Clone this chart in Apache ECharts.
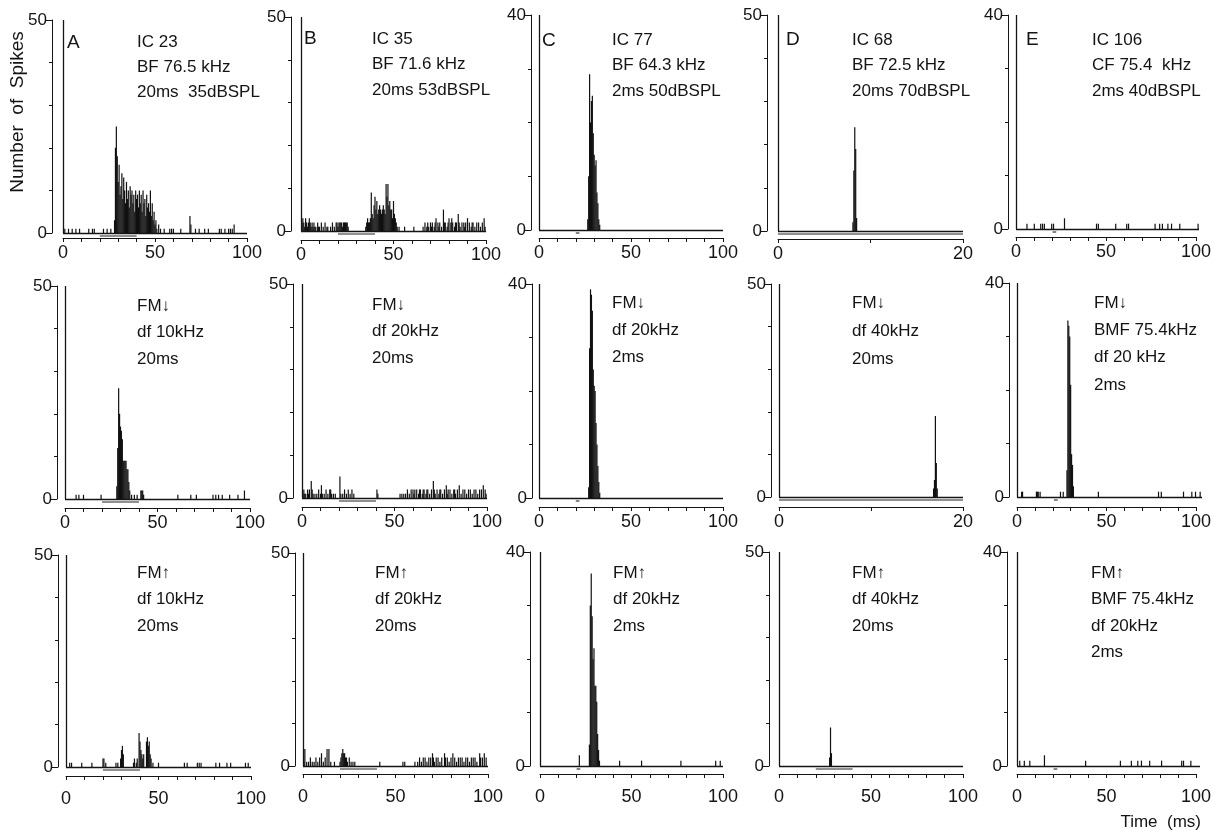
<!DOCTYPE html>
<html>
<head>
<meta charset="utf-8">
<script src="https://cdn.jsdelivr.net/npm/echarts@6/dist/echarts.min.js"></script>
<style>
  html, body { margin: 0; padding: 0; background: #fff; }
  #chart { width: 1214px; height: 835px; }
</style>
</head>
<body>
<div id="chart"></div>
<script>
// Post-stimulus time histograms, 5 neurons (columns A–E) x 3 stimulus types (rows).
// Each histogram is a list of [time in ms, number of spikes] bins.

const spikesA1 = [[1,1],[3,1],[5,1],[7,1],[9,1],[14,1],[16,1],[17,1],[22,1],[24,1],[26,1],
  [28,3],[28.5,20],[29,25],[29.5,18],[30,12],[30.5,16],[31,9],[31.5,11],[32,14],[32.5,8],[33,13],[33.5,10],
  [34,7],[34.5,12],[35,8],[35.5,10],[36,6],[36.5,11],[37,9],[37.5,10],[38,7],[38.5,9],[39,5],[39.5,10],
  [40,8],[40.5,9],[41,6],[41.5,10],[42,7],[42.5,9],[43,5],[43.5,10],[44,7],[44.5,8],[45,4],[45.5,9],
  [46,6],[46.5,7],[47,5],[47.5,10],[48,4],[48.5,7],[49,3],[49.5,5],[50,2],[50.5,3],[51,1],[52,2],[53,1],
  [55,1],[58,1],[59,1],[60,1],[64,1],[69,4],[69.5,2],[72,1],[74,1],[77,1],[79,1],[85,1],[86,1],[88,1],
  [90,1],[91,1],[92,1],[93,2]];
const spikesB1 = [[0.5,2],[1,3],[1.5,2],[2,1],[2.5,3],[3,2],[3.5,1],[4,2],[4.5,3],[5,2],[5.5,1],[6,2],[6.5,1],
  [7,2],[7.5,1],[8,1],[9,2],[9.5,1],[10,1],[11,2],[12,1],[13,2],[14,1],[14.5,1],[16,1],[17,2],[18,1],
  [19,2],[19.5,2],[20,1],[20.5,2],[21,2],[21.5,2],[22,2],[22.5,1],[23,2],[23.5,2],[24,2],[24.5,2],[25,2],[25.5,1],
  [35,1],[35.5,2],[36,3],[36.5,2],[37,2],[37.5,3],[38,9],[38.5,4],[39,3],[39.5,6],[40,8],[40.5,5],[41,7],
  [41.5,4],[42,5],[42.5,6],[43,5],[43.5,4],[44,5],[44.5,6],[45,5],[45.5,4],[46,11],[46.5,8],[47,11],
  [47.5,6],[48,7],[48.5,5],[49,5],[49.5,3],[50,7],[50.5,4],[51,3],[51.5,2],[52,1],[53,1],[56,1],[61,1],
  [66,1],[67,2],[68,1],[68.5,2],[69,1],[70,2],[70.5,1],[71,2],[72,1],[72.5,2],[73,3],[74,2],[74.5,1],
  [75,2],[76,1],[77,5],[77.5,2],[78,2],[79,1],[79.5,2],[80,3],[81,2],[81.5,3],[82,2],[83,1],[83.5,2],
  [84,2],[85,4],[85.5,2],[86,1],[87,2],[88,2],[88.5,1],[89,2],[90,3],[91,2],[92,1],[92.5,2],[93,2],
  [94,1],[95,2],[96,2],[97,1],[98,2],[99,3],[99.5,1]];
const spikesC1 = [[26.5,2],[27,10],[27.5,29],[28,20],[28.5,24],[29,25],[29.5,18],[30,14],[30.5,12],
  [31,13],[31.5,7],[32,5],[32.5,2],[33,1]];
const spikesD1 = [[8.1,2],[8.2,14],[8.3,24],[8.4,19],[8.5,3]];
const spikesE1 = [[6,1],[10,1],[13.5,1],[14.5,1],[15.5,1],[19.5,1],[20.5,1],[26.5,2],[44,1],[45,1],[54.5,1],
  [60.5,1],[61.5,1],[76,1],[78.5,1],[80,1],[83,1],[85,1],[89.5,1],[99.5,1]];

const spikesA2 = [[6,1],[7.5,1],[10,1],[19.5,1],[28,3],[28.5,12],[29,26],[29.5,20],[30,17],[30.5,16],
  [31,14],[31.5,9],[32,9],[32.5,9],[33,9],[33.5,7],[34,7],[34.5,4],[35,2],[36,1],[37.5,1],[39,1],[41,2],
  [41.5,2],[42,2],[42.5,1],[61,1],[68,1],[71,1],[80,1],[81.5,1],[83,1],[85,1],[89,1],[93.5,1],[97,2]];
const spikesB2 = [[0.5,1],[1,2],[1.5,1],[2,1],[3,2],[3.5,1],[4,2],[5,4],[5.5,2],[6,1],[7,1],[8,1],[9,2],
  [10,1],[10.5,3],[11,1],[12,1],[13,2],[14,1],[15,2],[15.5,2],[16,1],[17,1],[18,1],[20.5,5],[21,1],[22,1],
  [23,2],[24,1],[25,2],[26,1],[27,2],[28,1],[40.5,2],[41,1],[53,1],[54,1],[55,1],[56,1],[57,2],[58,1],
  [59,2],[60,2],[60.5,1],[61,2],[62,2],[63,1],[63.5,2],[64,2],[65,1],[65.5,2],[66,2],[67,1],[67.5,2],
  [68,2],[69,1],[70,2],[71,4],[71.5,2],[72,1],[73,2],[74,1],[74.5,2],[75,2],[76,1],[77,2],[78,3],[78.5,1],
  [79,2],[80,2],[81,1],[82,2],[82.5,2],[83,1],[84,2],[85,3],[86,1],[87,2],[88,2],[89,1],[90,2],[91,2],
  [92,1],[93,2],[94,2],[95,1],[96,2],[97,2],[98,3],[99,2],[99.5,1]];
const spikesC2 = [[27,2],[27.5,28],[28,39],[28.5,38],[29,35],[29.5,24],[30,21],[30.5,20],[31,14],
  [31.5,10],[32,6],[32.5,3],[33,1]];
const spikesD2 = [[16.8,2],[16.9,4],[17.0,19],[17.1,8],[17.2,2]];
const spikesE2 = [[2.5,1],[3,1],[10.5,1],[11,1],[11.5,1],[12.5,1],[23.5,1],[25,1],[27,5],[27.5,33],
  [28,32],[28.5,30],[29,21],[29.5,8],[30,6],[30.5,2],[44,1],[76.5,1],[78,1],[90,1],[94.5,1],[96.5,1],[99,1]];

const spikesA3 = [[2,1],[3,1],[8.5,1],[14,1],[20,2],[20.5,2],[21.5,1],[27,1],[28,1],[29.5,2],[30,4],
  [30.5,5],[31,3],[36.5,1],[37,2],[38,1],[38.5,2],[39.5,8],[40,6],[40.5,4],[41,3],[41.5,2],[42,3],
  [43.5,6],[44,7],[44.5,5],[45,6],[45.5,3],[46,2],[47,1],[50,1],[64,1],[65.5,1],[71,1],[72,1],[73,1],
  [81,1],[83,1],[87,1],[89,1],[97,1],[98.5,1]];
const spikesB3 = [[0.5,1],[1,4],[2,1],[3,1],[4,2],[5,1],[6,1],[7,2],[8,1],[9,2],[10,3],[11,1],[12,2],
  [13,4],[14,4],[15,1],[17,1],[20,1],[20.5,2],[21,3],[21.5,4],[22,3],[22.5,3],[23,2],[23.5,2],[24,1],
  [25,2],[26,1],[27,1],[28,1],[41.5,1],[54,1],[55,1],[60.5,1],[62,1],[63,2],[64,1],[65,2],[66,2],[67,1],
  [68,2],[69,2],[70,3],[70.5,2],[71,1],[72,2],[73,2],[74,1],[75,2],[76.5,3],[77,2],[78,2],[79,1],[80,2],
  [81,3],[82,2],[83,1],[84,2],[85,2],[86,2],[87,1],[88,2],[89,2],[90,1],[91,2],[92,2],[93,2],[94,1],
  [95.5,3],[96,2],[97,2],[98,3],[99,2]];
const spikesC3 = [[21.5,2],[27,4],[27.5,30],[28,36],[28.5,28],[29,20],[29.5,22],[30,15],[30.5,15],
  [31,12],[31.5,6],[32,3],[32.5,1],[43.5,1],[55.5,1],[77,1],[96,1],[98.5,1]];
const spikesD3 = [[27.5,2],[28,9],[28.5,3]];
const spikesE3 = [[1.5,1],[4,1],[7,1],[15,2],[37.5,1],[56.5,1],[62.5,1],[66,1],[68,1],[72.5,1],[79,1],
  [90,1],[91,1],[95,1]];

const spikes = [spikesA1, spikesB1, spikesC1, spikesD1, spikesE1,
                spikesA2, spikesB2, spikesC2, spikesD2, spikesE2,
                spikesA3, spikesB3, spikesC3, spikesD3, spikesE3];

// Axis ranges (number of spikes, time in ms)
const yMax = [50, 50, 40, 50, 40,  50, 50, 40, 50, 40,  50, 50, 40, 50, 40];
const xMax = [100, 100, 100, 20, 100,  100, 100, 100, 20, 100,  100, 100, 100, 100, 100];

// Stimulus on/off times (ms)
const stimulus = [[20,40],[20,40],[20,22],[0,20],[20,22],
                  [20,40],[20,40],[20,22],[0,20],[20,22],
                  [20,40],[20,40],[20,22],[20,40],[20,22]];

// Panel annotations
const columnLetters = ['A', 'B', 'C', 'D', 'E'];
const panelNotes = [
  ['IC 23', 'BF 76.5 kHz', '20ms  35dBSPL'],
  ['IC 35', 'BF 71.6 kHz', '20ms 53dBSPL'],
  ['IC 77', 'BF 64.3 kHz', '2ms 50dBSPL'],
  ['IC 68', 'BF 72.5 kHz', '20ms 70dBSPL'],
  ['IC 106', 'CF 75.4  kHz', '2ms 40dBSPL'],
  ['FM\u2193', 'df 10kHz', '20ms'],
  ['FM\u2193', 'df 20kHz', '20ms'],
  ['FM\u2193', 'df 20kHz', '2ms'],
  ['FM\u2193', 'df 40kHz', '20ms'],
  ['FM\u2193', 'BMF 75.4kHz', 'df 20 kHz', '2ms'],
  ['FM\u2191', 'df 10kHz', '20ms'],
  ['FM\u2191', 'df 20kHz', '20ms'],
  ['FM\u2191', 'df 20kHz', '2ms'],
  ['FM\u2191', 'df 40kHz', '20ms'],
  ['FM\u2191', 'BMF 75.4kHz', 'df 20kHz', '2ms']
];
const yAxisName = 'Number  of  Spikes';
const xAxisName = 'Time  (ms)';

// Page layout: [plot left, plot right, plot top, plot bottom, y-axis gap, x-axis gap]
const layout = [
  [63, 247, 20, 233, 11, 5], [301, 486, 17, 231, 10, 9], [539, 723, 15, 230, 8, 8],
  [778, 963, 15, 231, 11, 8], [1016, 1199, 15, 229, 8, 8],
  [65, 250, 286, 499, 8, 9], [302, 487, 284, 498, 9, 9], [539, 723, 284, 498, 7, 9],
  [779, 963, 284, 497, 8, 10], [1017, 1202, 283, 497, 8, 10],
  [66, 251, 555, 767, 8, 9], [303, 488, 553, 766, 8, 8], [540, 723, 552, 766, 10, 8],
  [779, 963, 552, 766, 10, 8], [1017, 1200, 552, 766, 10, 8]
];
const rowLabelMargin = [6, 6, 14];
// Note block placement: [x, first line y, line step]
const noteLayout = [
  [137, 42, 25], [372, 39, 25.5], [612, 40, 25.5], [852, 40, 25.5], [1092, 40, 25.5],
  [137, 306, 26.5], [372, 305, 26.5], [612, 303, 27], [852, 303, 28], [1094, 303, 27.3],
  [137, 573, 26.5], [375, 573, 26.5], [613, 573, 26.5], [852, 573, 26.5], [1091, 573, 26.5]
];
const letterLayout = [[67, 43], [304, 39], [542, 41], [786, 40], [1026, 40]];

const FONT = '"Liberation Sans", Arial, Helvetica, sans-serif';
const INK = '#141414';

const grids = [], xAxes = [], yAxes = [], series = [], graphics = [];
const hiddenAxis = (gridIndex, min, max) => ({ type: 'value', gridIndex, min, max, show: false });

layout.forEach((g, i) => {
  const [x0, x1, yTop, yZero, yGap, xGap] = g;
  const w = x1 - x0, h = yZero - yTop;
  const base = 3 * i;
  const row = Math.floor(i / 5);

  // data area
  grids.push({ left: x0, top: yTop, width: w, height: h });
  xAxes.push(hiddenAxis(base, 0, xMax[i]));
  yAxes.push(hiddenAxis(base, 0, yMax[i]));

  // spike-count axis, set slightly to the left of time zero
  grids.push({ left: x0 - yGap, top: yTop, width: w, height: h });
  xAxes.push(hiddenAxis(base + 1, 0, xMax[i]));
  yAxes.push({
    type: 'value', gridIndex: base + 1, min: 0, max: yMax[i], interval: yMax[i], position: 'left',
    axisLine: { show: true, onZero: false, lineStyle: { color: INK, width: 1 } },
    axisTick: { show: true, length: 6, lineStyle: { color: INK, width: 1 } },
    minorTick: { show: true, splitNumber: yMax[i] / 10, length: 3, lineStyle: { color: INK, width: 1 } },
    axisLabel: { fontSize: 17, color: INK, fontFamily: FONT, margin: 5 },
    splitLine: { show: false }, minorSplitLine: { show: false }
  });

  // time axis, set slightly below the zero line
  grids.push({ left: x0, top: yTop + xGap, width: w, height: h });
  xAxes.push({
    type: 'value', gridIndex: base + 2, min: 0, max: xMax[i], interval: 10, position: 'bottom',
    axisLine: { show: true, onZero: false, lineStyle: { color: INK, width: 1 } },
    axisTick: { show: true, length: 4, lineStyle: { color: INK, width: 1 } },
    axisLabel: {
      fontSize: 18, color: INK, fontFamily: FONT, margin: rowLabelMargin[row],
      formatter: v => (v % 50 === 0 || v === xMax[i]) ? String(v) : ''
    },
    splitLine: { show: false }
  });
  yAxes.push(hiddenAxis(base + 2, 0, yMax[i]));

  series.push({
    type: 'bar', xAxisIndex: base, yAxisIndex: base, data: spikes[i],
    barWidth: 1.2, silent: true,
    itemStyle: { color: '#111111' },
    markLine: {
      silent: true, symbol: 'none', animation: false,
      label: { show: false },
      lineStyle: { color: INK, width: 1.3, type: 'solid' },
      data: [{ xAxis: 0 }, { yAxis: 0 }]
    }
  });

  // stimulus marker, drawn just below the zero line
  series.push({
    type: 'custom', xAxisIndex: base, yAxisIndex: base, silent: true,
    data: [[stimulus[i][0], stimulus[i][1], 0]],
    encode: { x: [0, 1], y: 2 },
    renderItem: (params, api) => {
      const a = api.coord([api.value(0), 0]);
      const b = api.coord([api.value(1), 0]);
      return {
        type: 'line',
        shape: { x1: a[0], y1: a[1] + 3, x2: b[0], y2: b[1] + 3 },
        style: { stroke: '#222', lineWidth: 1.1 }
      };
    }
  });

  const [nx, ny, step] = noteLayout[i];
  panelNotes[i].forEach((line, k) => {
    graphics.push({
      type: 'text', x: nx, y: ny + k * step, silent: true,
      style: { text: line, fontSize: 17, fontFamily: FONT, fill: INK, align: 'left', verticalAlign: 'middle' }
    });
  });
});

columnLetters.forEach((L, c) => {
  graphics.push({
    type: 'text', x: letterLayout[c][0], y: letterLayout[c][1], silent: true,
    style: { text: L, fontSize: 19, fontFamily: FONT, fill: INK, align: 'left', verticalAlign: 'middle' }
  });
});

graphics.push({
  type: 'text', x: 18, y: 112, rotation: Math.PI / 2, silent: true,
  style: { text: yAxisName, fontSize: 19, fontFamily: FONT, fill: INK, align: 'center', verticalAlign: 'middle' }
});
graphics.push({
  type: 'text', x: 1201, y: 822, silent: true,
  style: { text: xAxisName, fontSize: 17, fontFamily: FONT, fill: INK, align: 'right', verticalAlign: 'middle' }
});

const chart = echarts.init(document.getElementById('chart'), null, { renderer: 'canvas' });
chart.setOption({
  animation: false,
  backgroundColor: '#ffffff',
  grid: grids,
  xAxis: xAxes,
  yAxis: yAxes,
  series: series,
  graphic: graphics
});
</script>
</body>
</html>
